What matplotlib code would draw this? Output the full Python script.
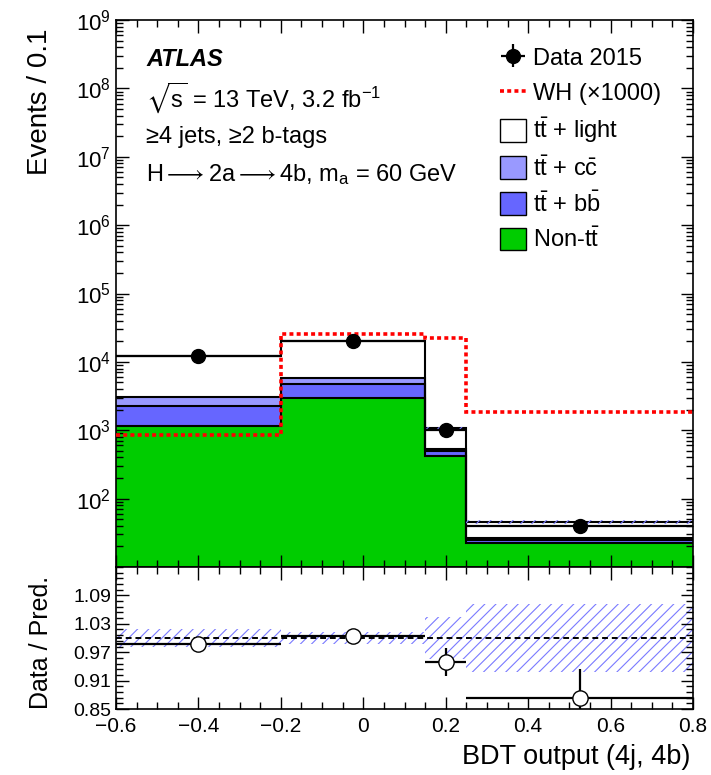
import numpy as np
import matplotlib.pyplot as plt
from matplotlib.patches import Patch
from matplotlib.lines import Line2D
from matplotlib.ticker import MultipleLocator, LogLocator, NullFormatter, FixedLocator

plt.rcParams['font.family'] = ['Liberation Sans', 'DejaVu Sans']
plt.rcParams['mathtext.fontset'] = 'custom'
plt.rcParams['mathtext.rm'] = 'Liberation Sans'
plt.rcParams['mathtext.it'] = 'Liberation Sans:italic'
plt.rcParams['mathtext.bf'] = 'Liberation Sans:bold'
plt.rcParams['mathtext.fallback'] = 'stixsans'
plt.rcParams['hatch.linewidth'] = 0.8

# bins of the BDT output
edges = [-0.6, -0.2, 0.15, 0.25, 0.8]
data_x = [-0.4, -0.025, 0.2, 0.525]
data = [12000, 20500, 1020, 40]
ratio_err = [0.004, 0.003, 0.03, 0.062]

# stacked backgrounds (Events / 0.1)
non_tt = [1150, 2960, 417, 22.3]
tt_bb = [1080, 1730, 73, 2.3]
tt_cc = [790, 1200, 50, 1.7]
tt_light = [9130, 14510, 535, 19.5]
syst = [0.02, 0.012, 0.045, 0.072]

# signal x1000
wh = [843, 25300, 22000, 1820]

W, H = 711, 775
fig = plt.figure(figsize=(W / 100, H / 100), dpi=100)


def box(x0, y0, x1, y1):
    return [x0 / W, 1 - y1 / H, (x1 - x0) / W, (y1 - y0) / H]


ax = fig.add_axes(box(116, 20, 693, 567))
rax = fig.add_axes(box(116, 567, 693, 709), sharex=ax)

edges = np.array(edges)
data_x = np.array(data_x)
data = np.array(data, dtype=float)
syst = np.array(syst)
hatch_col = '#7a7aff'

# stack
cum = np.full(4, 1e-2)
for vals, col in [(non_tt, '#00cc00'), (tt_bb, '#6666ff'), (tt_cc, '#9999ff'), (tt_light, 'white')]:
    top = cum + np.array(vals)
    ax.stairs(top, edges, baseline=cum, fill=True, color=col, zorder=1)
    ax.stairs(top, edges, baseline=None, color='black', lw=1.5, zorder=2)
    cum = top
total = cum

ax.stairs(total * (1 + syst), edges, baseline=total * (1 - syst), fill=True,
          facecolor='none', edgecolor=hatch_col, hatch='///', lw=0, zorder=3)

ax.stairs(wh, edges, baseline=None, color='red', lw=2.6, ls=(0, (1.1, 0.9)), zorder=4)

xerr = [data_x - edges[:-1], edges[1:] - data_x]
ratio = data / total
dat = ax.errorbar(data_x, data, xerr=xerr, yerr=data * ratio_err / ratio, fmt='o',
                  color='black', ms=10, lw=1.6, capsize=0, zorder=5)

ax.set_yscale('log')
ax.set_ylim(10, 1e9)
ax.set_xlim(-0.6, 0.8)

# ratio panel
rax.stairs(1 + syst, edges, baseline=1 - syst, fill=True, facecolor='none',
           edgecolor=hatch_col, hatch='///', lw=0, zorder=1)
rax.axhline(1, color='black', ls=(0, (3, 2)), lw=1.4, zorder=2)
rax.errorbar(data_x, ratio, xerr=xerr, yerr=ratio_err, fmt='o', mfc='white',
             mec='black', color='black', ms=11, lw=1.6, capsize=0, zorder=3)
rax.set_ylim(0.85, 1.15)
rax.yaxis.set_major_locator(FixedLocator([0.85, 0.91, 0.97, 1.03, 1.09]))
rax.yaxis.set_minor_locator(FixedLocator(np.arange(0.85, 1.151, 0.012)))
rax.yaxis.set_major_formatter(plt.FixedFormatter(['0.85', '0.91', '0.97', '1.03', '1.09']))

for a in (ax, rax):
    a.xaxis.set_major_locator(MultipleLocator(0.2))
    a.xaxis.set_minor_locator(MultipleLocator(0.05))
    a.tick_params(which='both', direction='in', top=True, right=True, width=1)
    a.tick_params(which='major', length=9)
    a.tick_params(which='minor', length=5)
    for s in a.spines.values():
        s.set_linewidth(1.2)
ax.yaxis.set_major_locator(LogLocator(base=10, numticks=20))
ax.yaxis.set_minor_locator(LogLocator(base=10, subs=np.arange(2, 10), numticks=20))
ax.yaxis.set_minor_formatter(NullFormatter())
ax.yaxis.set_major_formatter(plt.FuncFormatter(
    lambda v, p: '' if v < 50 else r'$\mathrm{10^{%d}}$' % round(np.log10(v))))
ax.tick_params(axis='x', labelbottom=False)
ax.tick_params(axis='y', labelsize=16)
rax.tick_params(axis='y', labelsize=14)
rax.tick_params(axis='x', labelsize=15, pad=6)
rax.xaxis.set_major_formatter(plt.FuncFormatter(lambda v, p: ('%g' % round(v, 2)).replace('-', '\u2212')))

ax.set_ylabel('Events / 0.1', fontsize=20, loc='top')
ax.yaxis.set_label_coords(-0.11, 0.985)
rax.set_ylabel('Data / Pred.', fontsize=18)
rax.yaxis.set_label_coords(-0.11, 0.47)
rax.set_xlabel('BDT output (4j, 4b)', fontsize=19.5, loc='right')
rax.xaxis.set_label_coords(0.995, -0.25)

# labels
tx = 146 / W
fig.text(tx, 1 - 60 / H, 'ATLAS', fontsize=17, weight='bold', style='italic', va='center')
fig.text(tx, 1 - 98 / H, r'$\sqrt{\mathrm{s}}$ = 13 TeV, 3.2 fb$^{\mathrm{-1}}$', fontsize=17, va='center')
fig.text(tx, 1 - 137 / H, '\u22654 jets, \u22652 b-tags', fontsize=17, va='center')
fig.text(tx, 1 - 175 / H, r'H$\longrightarrow$2a$\longrightarrow$4b, m$_{\mathrm{a}}$ = 60 GeV',
         fontsize=17, va='center')

handles = [dat,
           Line2D([], [], color='red', lw=2.6, ls=(0, (1.1, 0.9))),
           Patch(facecolor='white', edgecolor='black', lw=1),
           Patch(facecolor='#9999ff', edgecolor='black', lw=1),
           Patch(facecolor='#6666ff', edgecolor='black', lw=1),
           Patch(facecolor='#00cc00', edgecolor='black', lw=1)]
labels = ['Data 2015', 'WH (\u00d71000)', r'$\mathrm{t\bar{t}}$ + light',
          r'$\mathrm{t\bar{t}}$ + $\mathrm{c\bar{c}}$', r'$\mathrm{t\bar{t}}$ + $\mathrm{b\bar{b}}$',
          r'Non-$\mathrm{t\bar{t}}$']
fig.legend(handles, labels, loc='upper left', bbox_to_anchor=(500 / W, 1 - 46 / H),
           frameon=False, fontsize=17, handlelength=1.1, handleheight=1.1,
           handletextpad=0.3, labelspacing=0.45, borderpad=0, borderaxespad=0)

fig.savefig('out.png', dpi=100)
